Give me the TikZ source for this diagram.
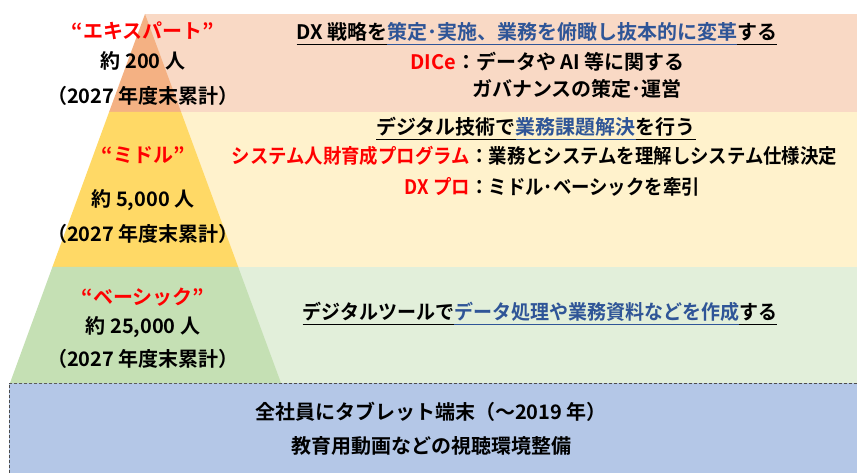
\documentclass[tikz,border=0pt]{standalone}
\usepackage{fontspec}
\setmainfont{Noto Sans CJK JP Bold}
\newfontfamily\jpnarrow{Noto Sans CJK JP Bold}[FakeStretch=0.92]
\newfontfamily\jpcondensed{Noto Sans CJK JP Bold}[FakeStretch=0.95]
\usetikzlibrary{positioning}
\definecolor{peachband}{HTML}{F9D9C5}
\definecolor{peachtop}{HTML}{F4B183}
\definecolor{yellowband}{HTML}{FFF2CC}
\definecolor{yellowmid}{HTML}{FFD966}
\definecolor{greenband}{HTML}{E2EFDA}
\definecolor{greenlow}{HTML}{C5E0B4}
\definecolor{blueground}{HTML}{B4C7E7}
\definecolor{bluetext}{HTML}{2F5597}
\newcommand{\jpul}[1]{\underline{#1\rule[-3pt]{0pt}{1pt}}}
\tikzset{jptext/.style = {inner sep=0pt, text height=17pt, text depth=4pt,
                          font=\fontsize{20}{24}\selectfont},
         redtext/.style = {jptext, text=red},
         narrowtext/.style = {jptext, font=\jpnarrow\fontsize{20}{24}\selectfont},
         narrowred/.style = {narrowtext, text=red}}

\begin{document}
\begin{tikzpicture}[x=1pt, y=-1pt]
    \useasboundingbox (0, 0) rectangle (857, 473);
    % bands
    \fill [peachband] (145, 14) rectangle (857, 112);
    \fill [yellowband] (145, 112) rectangle (857, 267);
    \fill [greenband] (145, 267) rectangle (857, 383);
    \fill [blueground] (9, 383) rectangle (857, 473);
    \draw [densely dashed, gray!60!black, line width=0.8pt] (857, 383) -- (9, 383) -- (9, 473);
    % pyramid
    \fill [peachtop] (145, 14) -- (181.1, 112) -- (109.1, 112) -- cycle;
    \fill [yellowmid] (109.1, 112) -- (181.1, 112) -- (238.2, 267) -- (52.4, 267) -- cycle;
    \fill [greenlow] (52.4, 267) -- (238.2, 267) -- (281, 383) -- (10, 383) -- cycle;

    \node (expert) [redtext] at (143, 32) {“エキスパート”};
    \node (expertnum) [jptext] at (143, 62) {約 200 人};
    \node (expertyear) [jptext] at (143, 97) {（2027 年度末累計）};
    \node (middle) [redtext] at (143, 156) {“ミドル”};
    \node (middlenum) [jptext] at (143, 200) {約 5,000 人};
    \node (middleyear) [jptext] at (143, 235) {（2027 年度末累計）};
    \node (basic) [redtext] at (143, 298) {“ベーシック”};
    \node (basicnum) [jptext] at (143, 327) {約 25,000 人};
    \node (basicyear) [jptext] at (143, 360) {（2027 年度末累計）};

    \node (experttitle) [jptext] at (537, 33)
        {\jpul{DX 戦略を}\textcolor{bluetext}{\jpul{策定･実施、業務を俯瞰し抜本的に変革}}\jpul{する}};
    \node (dice) [redtext, anchor=east] at (456, 63) {DICe};
    \node (dicedesc) [jptext, right=0pt of dice] {：データや AI 等に関する};
    \node (dicedesc2) [jptext, anchor=west] at (472, 90) {ガバナンスの策定･運営};

    \node (middletitle) [jptext] at (536, 128)
        {\jpul{デジタル技術で}\textcolor{bluetext}{\jpul{業務課題解決}}\jpul{を行う}};
    \node (sysprog) [narrowred, anchor=east] at (470, 157) {システム人財育成プログラム};
    \node (sysdesc) [narrowtext, right=0pt of sysprog] {：業務とシステムを理解しシステム仕様決定};
    \node (dxpro) [narrowred, anchor=east] at (470, 188) {DX プロ};
    \node (dxdesc) [narrowtext, right=0pt of dxpro] {：ミドル･ベーシックを牽引};

    \node (basictitle) [jptext, font=\jpcondensed\fontsize{20}{24}\selectfont] at (540, 313)
        {\jpul{デジタルツールで}\textcolor{bluetext}{\jpul{データ処理や業務資料などを作成}}\jpul{する}};

    \node (tablet) [jptext] at (431, 413) {全社員にタブレット端末（～2019 年）};
    \node (video) [jptext] at (431, 447) {教育用動画などの視聴環境整備};
\end{tikzpicture}
\end{document}
